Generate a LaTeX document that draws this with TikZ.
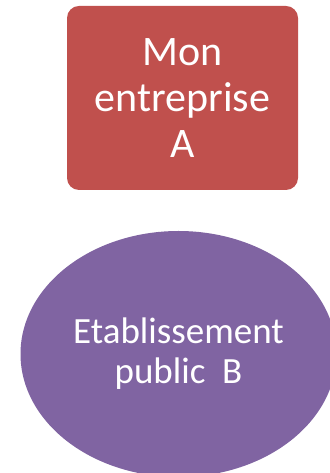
\documentclass[tikz,border=0pt]{standalone}
\usepackage{fontspec}
\setmainfont{Carlito}
\usepackage{tikz}
\usetikzlibrary{shapes.geometric}
\usepackage{xcolor}
\definecolor{rouge}{HTML}{C0504D}
\definecolor{violet}{HTML}{8064A2}

\begin{document}
\begin{tikzpicture}[x=1pt,y=1pt,
		boite/.style={rectangle,rounded corners=12pt,fill=rouge,text=white,minimum width=231pt,minimum height=184pt,align=center,font=\fontsize{42}{46}\selectfont},
		bulle/.style={ellipse,fill=violet,text=white,minimum width=316pt,minimum height=246pt,inner sep=0pt,align=center,font=\fontsize{37}{40}\selectfont}]
			\useasboundingbox (0,0) rectangle (329,473);
			\coordinate (A) at (182.5,375);
			\coordinate (B) at (178.5,119);
			\node [boite] (entreprise) at (A) {Mon\\entreprise\\A};
			\node [bulle] (etablissement) at (B) {Etablissement\\public~~B};
		\end{tikzpicture}
\end{document}
